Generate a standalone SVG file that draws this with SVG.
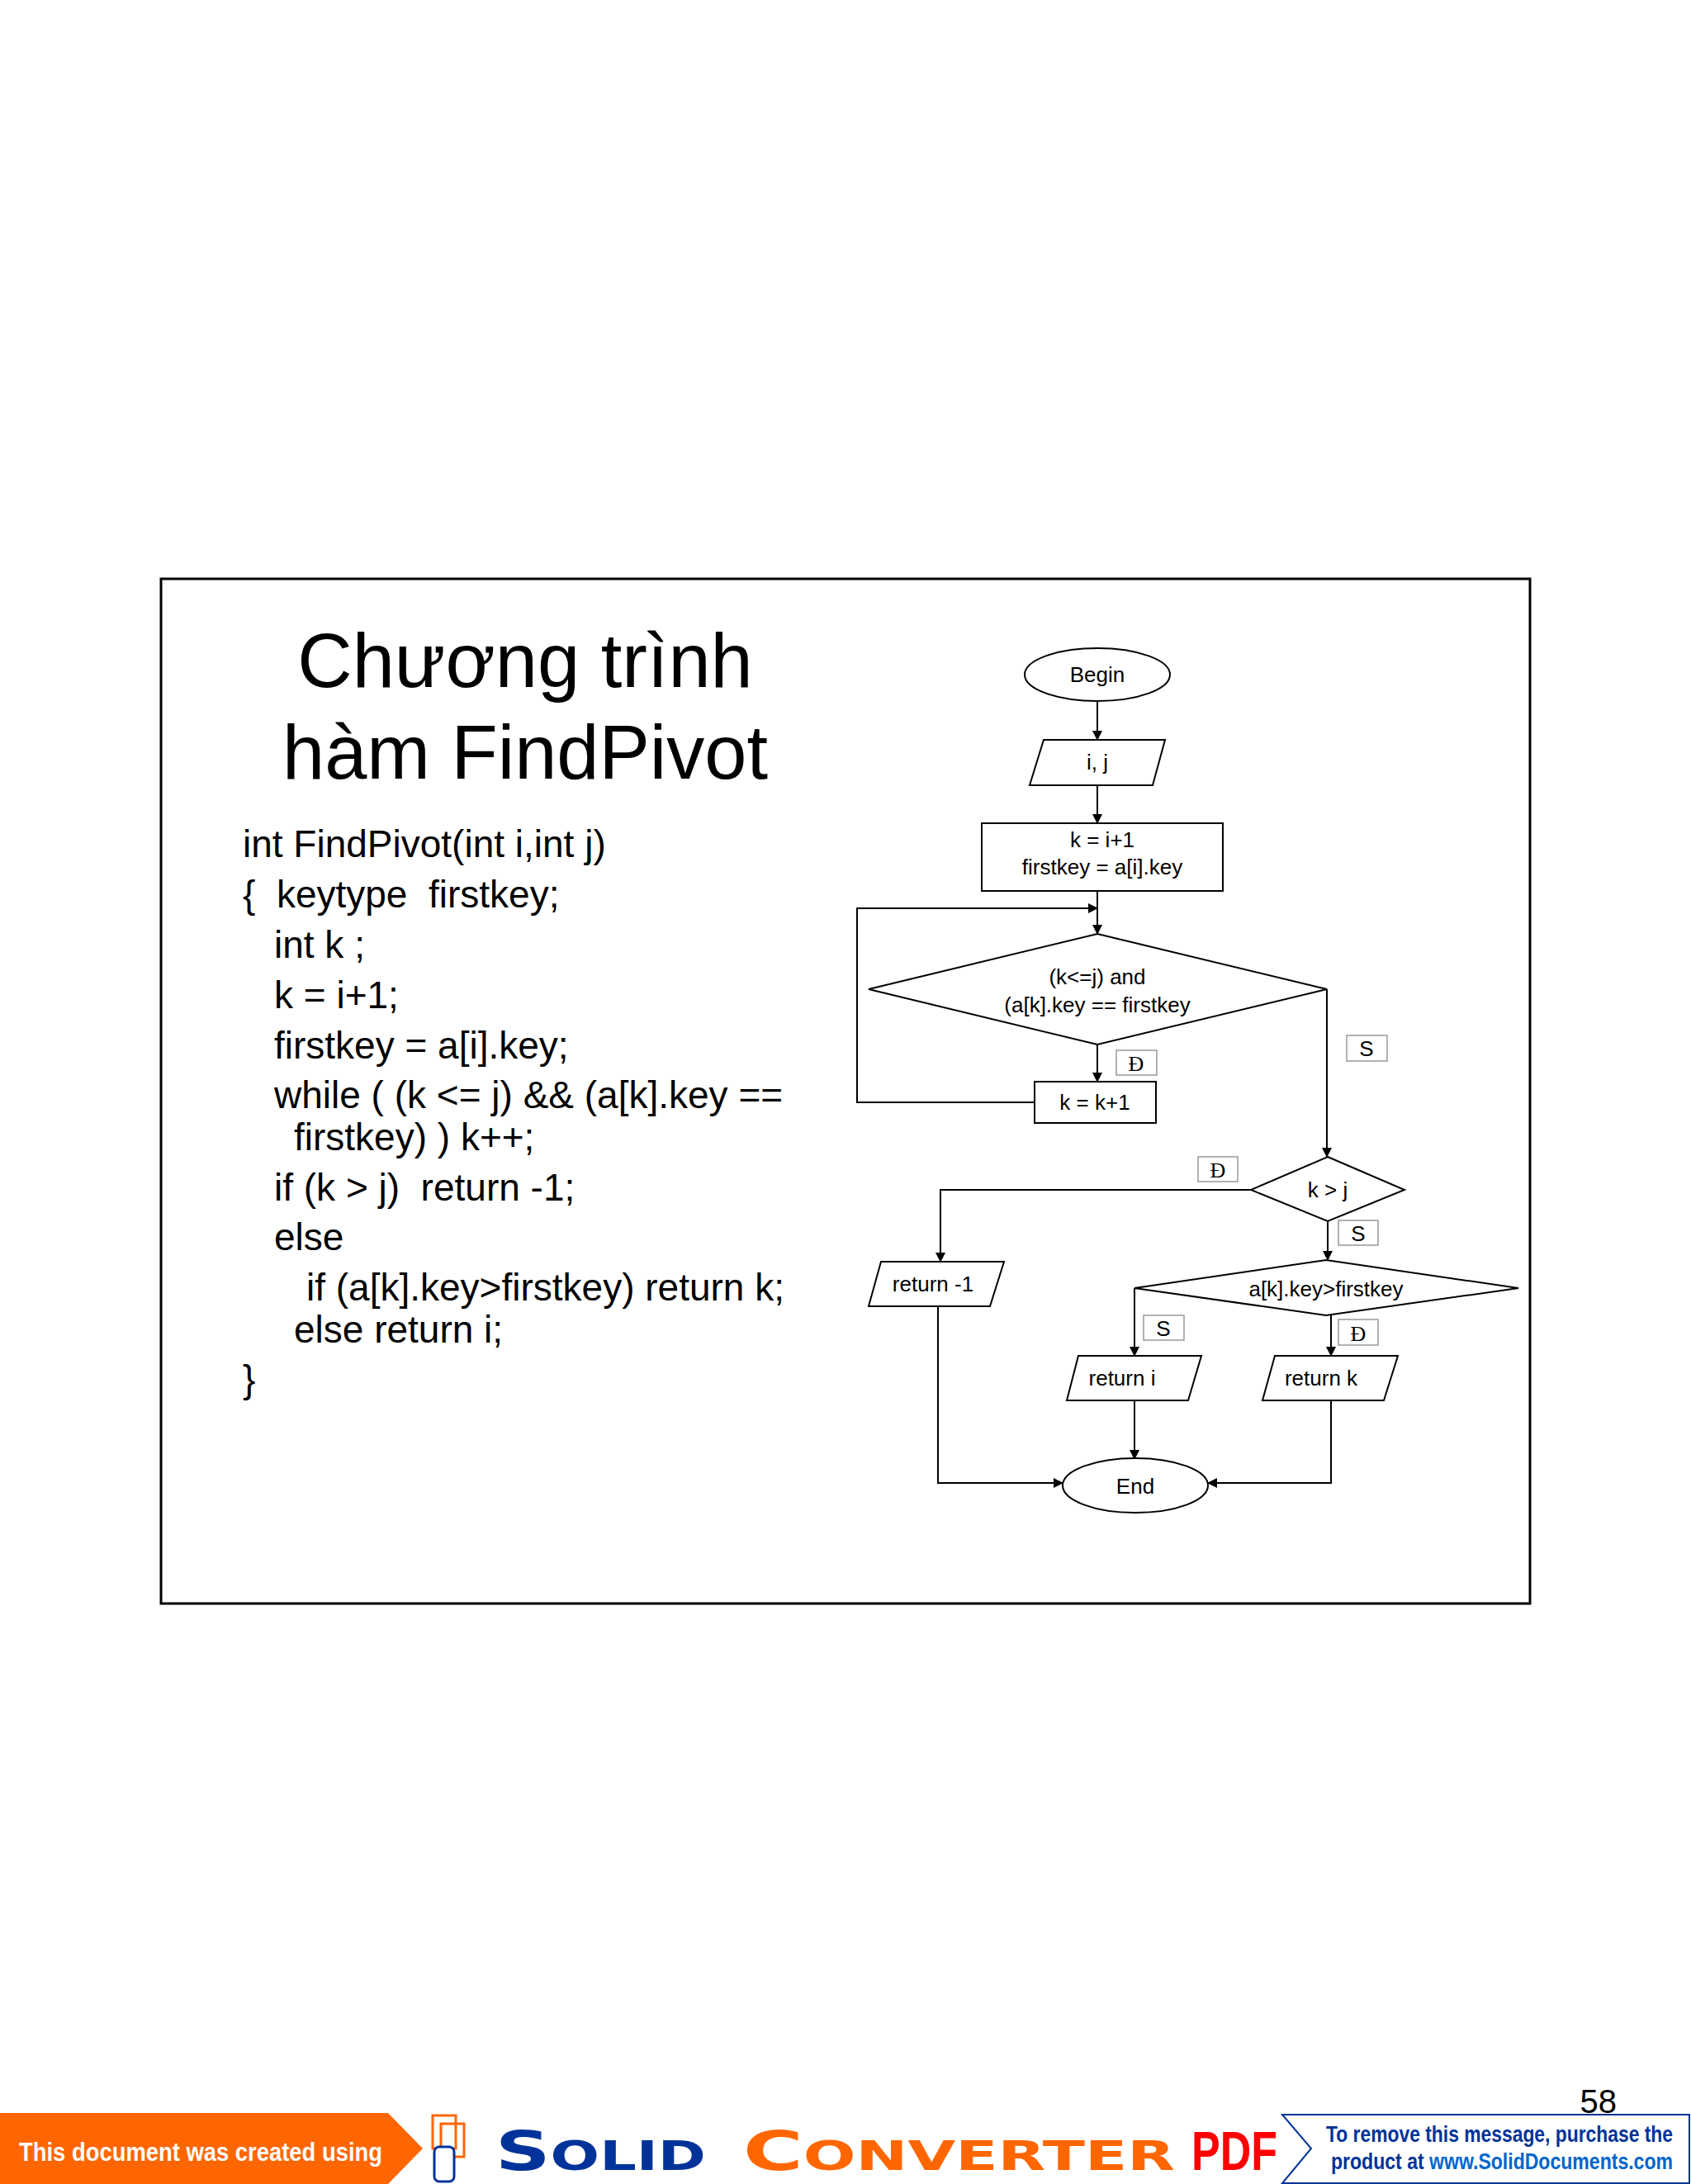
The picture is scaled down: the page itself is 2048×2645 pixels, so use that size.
<svg xmlns="http://www.w3.org/2000/svg" width="2048" height="2645" viewBox="0 0 2048 2645">
<defs>
<marker id="ah" markerWidth="12" markerHeight="12" refX="11" refY="6" orient="auto" markerUnits="userSpaceOnUse"><path d="M0,0 L12,6 L0,12 z" fill="#000"/></marker>
<style>
.n{fill:#fff;stroke:#000;stroke-width:2}
.t{font-family:"Liberation Sans",Arial,sans-serif;font-size:26px;fill:#000;text-anchor:middle}
.c{fill:none;stroke:#000;stroke-width:2;marker-end:url(#ah)}
.lb{fill:#fff;stroke:#999;stroke-width:1.5}
.code{font-family:"Liberation Sans",Arial,sans-serif;font-size:46px;fill:#000}
</style>
</defs>
<rect width="2048" height="2645" fill="#fff"/>
<rect x="195" y="701" width="1658" height="1241" fill="none" stroke="#000" stroke-width="3"/>
<g id="title" font-family="Liberation Sans,Arial,sans-serif" font-size="92" text-anchor="middle">
<text x="636" y="832">Chương trình</text>
<text x="636" y="943">hàm FindPivot</text>
</g>
<g id="code" class="code">
<text x="294" y="1038">int FindPivot(int i,int j)</text>
<text x="294" y="1099">{&#160; keytype&#160; firstkey;</text>
<text x="332" y="1160">int k ;</text>
<text x="332" y="1221">k = i+1;</text>
<text x="332" y="1282">firstkey = a[i].key;</text>
<text x="332" y="1342">while ( (k &lt;= j) &amp;&amp; (a[k].key ==</text>
<text x="356" y="1393">firstkey) ) k++;</text>
<text x="332" y="1454">if (k &gt; j)&#160; return -1;</text>
<text x="332" y="1514">else</text>
<text x="371" y="1575">if (a[k].key&gt;firstkey) return k;</text>
<text x="356" y="1626">else return i;</text>
<text x="294" y="1686">}</text>
</g>
<g id="connectors">
<path class="c" d="M1329,849 V896"/>
<path class="c" d="M1329,951 V997"/>
<path class="c" d="M1329,1079 V1131"/>
<path class="c" d="M1253,1335 H1038 V1100 H1329"/>
<path class="c" d="M1329,1265 V1310"/>
<path class="c" d="M1607,1198 V1401"/>
<path class="c" d="M1515,1441 H1139 V1528"/>
<path class="c" d="M1608,1479 V1526"/>
<path class="c" d="M1374,1560 V1642"/>
<path class="c" d="M1612,1593 V1642"/>
<path class="c" d="M1374,1696 V1767"/>
<path class="c" d="M1136,1582 V1796 H1287"/>
<path class="c" d="M1612,1696 V1796 H1463"/>
</g>
<g id="begin"><ellipse class="n" cx="1329" cy="817" rx="88" ry="32"/><text class="t" x="1329" y="826">Begin</text></g>
<g id="input"><path class="n" d="M1264,896 H1411 L1396,951 H1247 Z"/><text class="t" x="1329" y="932">i, j</text></g>
<g id="init"><rect class="n" x="1189" y="997" width="292" height="82"/><text class="t" x="1335" y="1026">k = i+1</text><text class="t" x="1335" y="1059">firstkey = a[i].key</text></g>
<g id="loopcond"><path class="n" d="M1329,1131 L1607,1198 L1329,1265 L1052,1198 Z"/><text class="t" x="1329" y="1192">(k&lt;=j) and</text><text class="t" x="1329" y="1226">(a[k].key == firstkey</text></g>
<g id="inc"><rect class="n" x="1253" y="1310" width="147" height="50"/><text class="t" x="1326" y="1344">k = k+1</text></g>
<g id="kgtj"><path class="n" d="M1608,1401 L1701,1441 L1608,1479 L1515,1441 Z"/><text class="t" x="1608" y="1450">k &gt; j</text></g>
<g id="cmp"><path class="n" d="M1606,1526 L1839,1560 L1606,1593 L1374,1560 Z"/><text class="t" x="1606" y="1570">a[k].key&gt;firstkey</text></g>
<g id="retm1"><path class="n" d="M1067,1528 H1216 L1199,1582 H1052 Z"/><text class="t" x="1130" y="1564" font-size="25">return -1</text></g>
<g id="reti"><path class="n" d="M1306,1642 H1455 L1439,1696 H1292 Z"/><text class="t" x="1359" y="1678">return i</text></g>
<g id="retk"><path class="n" d="M1544,1642 H1693 L1676,1696 H1529 Z"/><text class="t" x="1600" y="1678">return k</text></g>
<g id="end"><ellipse class="n" cx="1375" cy="1799" rx="88" ry="33"/><text class="t" x="1375" y="1809">End</text></g>
<g id="labels">
<rect class="lb" x="1352" y="1272" width="49" height="30"/><text x="1376" y="1297" font-family="Liberation Serif,serif" font-size="26" text-anchor="middle">Đ</text>
<rect class="lb" x="1631" y="1254" width="49" height="31"/><text class="t" x="1655" y="1279">S</text>
<rect class="lb" x="1451" y="1401" width="48" height="30"/><text x="1475" y="1426" font-family="Liberation Serif,serif" font-size="26" text-anchor="middle">Đ</text>
<rect class="lb" x="1621" y="1478" width="48" height="30"/><text class="t" x="1645" y="1503">S</text>
<rect class="lb" x="1385" y="1593" width="49" height="30"/><text class="t" x="1409" y="1618">S</text>
<rect class="lb" x="1621" y="1598" width="48" height="31"/><text x="1645" y="1624" font-family="Liberation Serif,serif" font-size="26" text-anchor="middle">Đ</text>
</g>
<g id="footer">
<text x="1958" y="2559" font-family="Liberation Sans,Arial,sans-serif" font-size="40" text-anchor="end">58</text>
<path d="M0,2559 H470 L512,2602 L470,2645 H0 Z" fill="#ff6600"/>
<text x="23" y="2617" font-family="Liberation Sans,Arial,sans-serif" font-weight="bold" font-size="32" fill="#fff" textLength="440" lengthAdjust="spacingAndGlyphs">This document was created using</text>
<rect x="524" y="2562" width="28" height="40" fill="none" stroke="#ff6600" stroke-width="3"/>
<rect x="534" y="2572" width="28" height="40" fill="none" stroke="#ff6600" stroke-width="3"/>
<rect x="526" y="2600" width="24" height="42" rx="6" fill="#fff" stroke="#003399" stroke-width="3"/>
<text x="600" y="2628" font-family="DejaVu Sans,sans-serif" font-weight="bold" fill="#003399" textLength="255" lengthAdjust="spacingAndGlyphs"><tspan font-size="66">S</tspan><tspan font-size="50">OLID</tspan></text>
<text x="900" y="2628" font-family="DejaVu Sans,sans-serif" font-weight="bold" fill="#ff6600" textLength="523" lengthAdjust="spacingAndGlyphs"><tspan font-size="66">C</tspan><tspan font-size="50">ONVERTER</tspan></text>
<text x="1443" y="2628" font-family="Liberation Sans,Arial,sans-serif" font-weight="bold" font-size="66" fill="#ff0000" textLength="104" lengthAdjust="spacingAndGlyphs">PDF</text>
<path d="M1553,2561 H2046 V2644 H1553 L1588,2602 Z" fill="#fff" stroke="#003399" stroke-width="2"/>
<text x="1606" y="2594" font-family="Liberation Sans,Arial,sans-serif" font-weight="bold" font-size="28" fill="#003399" textLength="420" lengthAdjust="spacingAndGlyphs">To remove this message, purchase the</text>
<text x="1612" y="2627" font-family="Liberation Sans,Arial,sans-serif" font-weight="bold" font-size="28" fill="#003399" textLength="414" lengthAdjust="spacingAndGlyphs">product at <tspan fill="#0066cc">www.SolidDocuments.com</tspan></text>
</g>
</svg>
